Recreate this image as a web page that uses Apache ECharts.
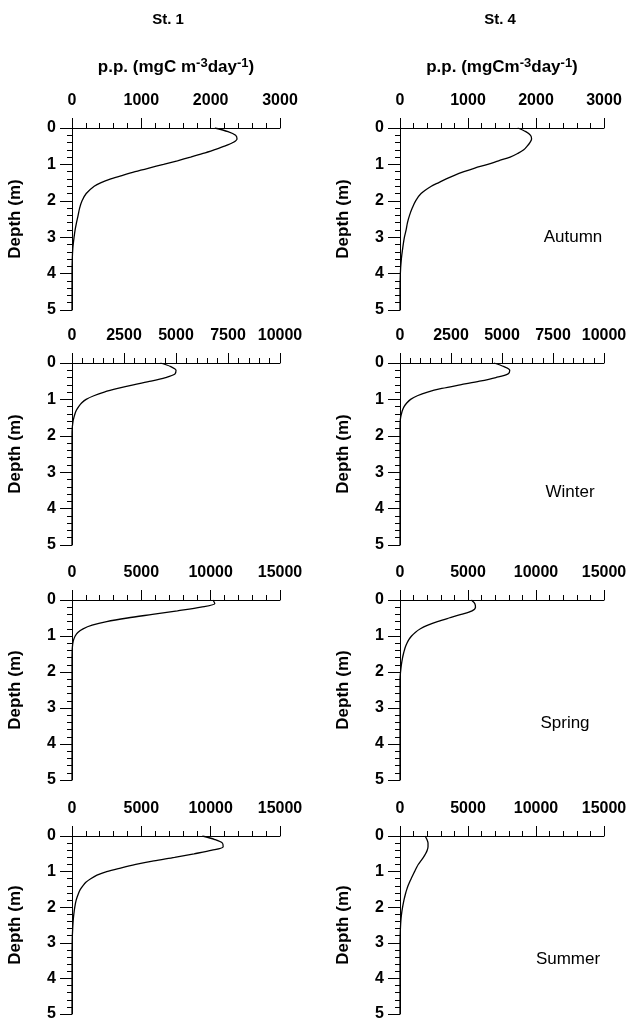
<!DOCTYPE html>
<html>
<head>
<meta charset="utf-8">
<script src="https://cdn.jsdelivr.net/npm/echarts@6/dist/echarts.min.js"></script>
<style>
html,body{margin:0;padding:0;background:#fff;}
#chart{width:630px;height:1022px;}
</style>
</head>
<body>
<div id="chart"></div>
<script>
// depth levels (m) shared by every profile
var depth = [0, 0.1, 0.2, 0.3, 0.4, 0.5, 0.6, 0.7, 0.8, 0.9, 1.0, 1.1, 1.2, 1.3, 1.4, 1.5, 1.6, 1.8, 2.0, 2.2, 2.4, 2.6, 2.8, 3.0, 3.3, 3.6, 4.0, 4.5, 5.0];

// primary production, mgC m-3 day-1
var st1Autumn = [2060, 2250, 2360, 2380, 2320, 2200, 2050, 1890, 1710, 1520, 1320, 1110, 910, 730, 560, 420, 320, 205, 145, 110, 88, 65, 45, 30, 12, 4, 0, 0, 0];
var st4Autumn = [1730, 1850, 1920, 1935, 1910, 1870, 1820, 1730, 1620, 1450, 1290, 1100, 940, 800, 680, 570, 460, 310, 230, 180, 140, 110, 90, 65, 40, 20, 5, 0, 0];
var st1Winter = [4250, 4750, 5000, 4950, 4500, 3800, 2950, 2200, 1550, 1050, 680, 460, 320, 210, 140, 90, 50, 10, 0, 0, 0, 0, 0, 0, 0, 0, 0, 0, 0];
var st4Winter = [4600, 5100, 5380, 5300, 4700, 3900, 2950, 2050, 1350, 850, 520, 330, 200, 120, 70, 30, 10, 0, 0, 0, 0, 0, 0, 0, 0, 0, 0, 0, 0];
var st1Spring = [10170, 10300, 9300, 7600, 5800, 4000, 2500, 1450, 800, 420, 230, 120, 60, 30, 12, 5, 0, 0, 0, 0, 0, 0, 0, 0, 0, 0, 0, 0, 0];
var st4Spring = [5250, 5500, 5550, 5300, 4500, 3600, 2750, 2050, 1500, 1120, 850, 650, 510, 400, 320, 250, 190, 100, 40, 0, 0, 0, 0, 0, 0, 0, 0, 0, 0];
var st1Summer = [9400, 10300, 10850, 10900, 10100, 8800, 7400, 5900, 4600, 3500, 2500, 1800, 1350, 1000, 780, 600, 480, 300, 200, 130, 80, 50, 25, 10, 0, 0, 0, 0, 0];
var st4Summer = [1850, 1980, 2060, 2060, 2000, 1880, 1720, 1530, 1340, 1200, 1070, 940, 820, 700, 590, 500, 420, 290, 190, 110, 60, 30, 10, 0, 0, 0, 0, 0, 0];

var stations = ['St. 1', 'St. 4'];
var seasons = ['Autumn', 'Winter', 'Spring', 'Summer'];
var xMax = [3000, 10000, 15000, 15000];
var xStep = [1000, 2500, 5000, 5000];
var profiles = [
  [st1Autumn, st4Autumn],
  [st1Winter, st4Winter],
  [st1Spring, st4Spring],
  [st1Summer, st4Summer]
];

var font = '"Liberation Sans", Arial, sans-serif';
var rowTop = [128, 363, 600, 836];
var rowH = [182, 182, 180, 181];
var colLeft = [72, 400];
var colW = [208, 204];
var seasonPos = [[573, 237], [570, 492], [565, 723], [568, 959]];

var grids = [], xAxes = [], yAxes = [], series = [], texts = [];

for (var r = 0; r < 4; r++) {
  for (var c = 0; c < 2; c++) {
    var i = grids.length;
    grids.push({left: colLeft[c], top: rowTop[r], width: colW[c], height: rowH[r]});
    var xa = {
      gridIndex: i, type: 'value', position: 'top',
      min: 0, max: xMax[r], interval: xStep[r],
      axisLine: {show: true, onZero: false, lineStyle: {color: '#000', width: 1}},
      axisTick: {show: true, length: 10, lineStyle: {color: '#000'}},
      minorTick: {show: true, splitNumber: 5, length: 5, lineStyle: {color: '#000'}},
      splitLine: {show: false},
      axisLabel: {color: '#000', fontFamily: font, fontWeight: 'bold', fontSize: 16, margin: 19,
        showMinLabel: true, showMaxLabel: true, hideOverlap: false,
        formatter: function (v) { return String(v); }}
    };
    if (r === 0) {
      xa.name = c === 0 ? '{n|p.p. (mgC m}{s|-3}{n|day}{s|-1}{n|)}' : '{n|p.p. (mgCm}{s|-3}{n|day}{s|-1}{n|)}';
      xa.nameLocation = 'middle';
      xa.nameGap = 52;
      xa.nameTextStyle = {
        rich: {
          n: {fontFamily: font, fontWeight: 'bold', fontSize: 17, color: '#000', lineHeight: 19, padding: [5, 0, 0, 0], verticalAlign: 'bottom'},
          s: {fontFamily: font, fontWeight: 'bold', fontSize: 13, color: '#000', lineHeight: 13, verticalAlign: 'top'}
        }
      };
    }
    xAxes.push(xa);
    yAxes.push({
      gridIndex: i, type: 'value', inverse: true,
      min: 0, max: 5, interval: 1,
      name: 'Depth (m)', nameLocation: 'middle', nameGap: 48,
      nameTextStyle: {color: '#000', fontFamily: font, fontWeight: 'bold', fontSize: 17},
      axisLine: {show: true, onZero: false, lineStyle: {color: '#000', width: 1}},
      axisTick: {show: true, length: 12, lineStyle: {color: '#000'}},
      minorTick: {show: true, splitNumber: 5, length: 5, lineStyle: {color: '#000'}},
      splitLine: {show: false},
      axisLabel: {color: '#000', fontFamily: font, fontWeight: 'bold', fontSize: 16, margin: 16}
    });
    var vals = profiles[r][c];
    series.push({
      type: 'line', xAxisIndex: i, yAxisIndex: i,
      data: depth.map(function (d, j) { return [vals[j], d]; }),
      showSymbol: false, smooth: 0.3, silent: true,
      lineStyle: {color: '#000', width: 1.3}
    });
  }
  texts.push({
    type: 'text', x: seasonPos[r][0], y: seasonPos[r][1],
    style: {text: seasons[r], fill: '#000', font: '17px ' + font, textAlign: 'center', textVerticalAlign: 'middle'}
  });
}

texts.push({type: 'text', x: 168, y: 20, style: {text: stations[0], fill: '#000', font: 'bold 15px ' + font, textAlign: 'center', textVerticalAlign: 'middle'}});
texts.push({type: 'text', x: 500, y: 20, style: {text: stations[1], fill: '#000', font: 'bold 15px ' + font, textAlign: 'center', textVerticalAlign: 'middle'}});

var myChart = echarts.init(document.getElementById('chart'));
var option = {
  animation: false,
  backgroundColor: '#fff',
  grid: grids,
  xAxis: xAxes,
  yAxis: yAxes,
  series: series,
  graphic: texts
};
myChart.setOption(option);
</script>
</body>
</html>
